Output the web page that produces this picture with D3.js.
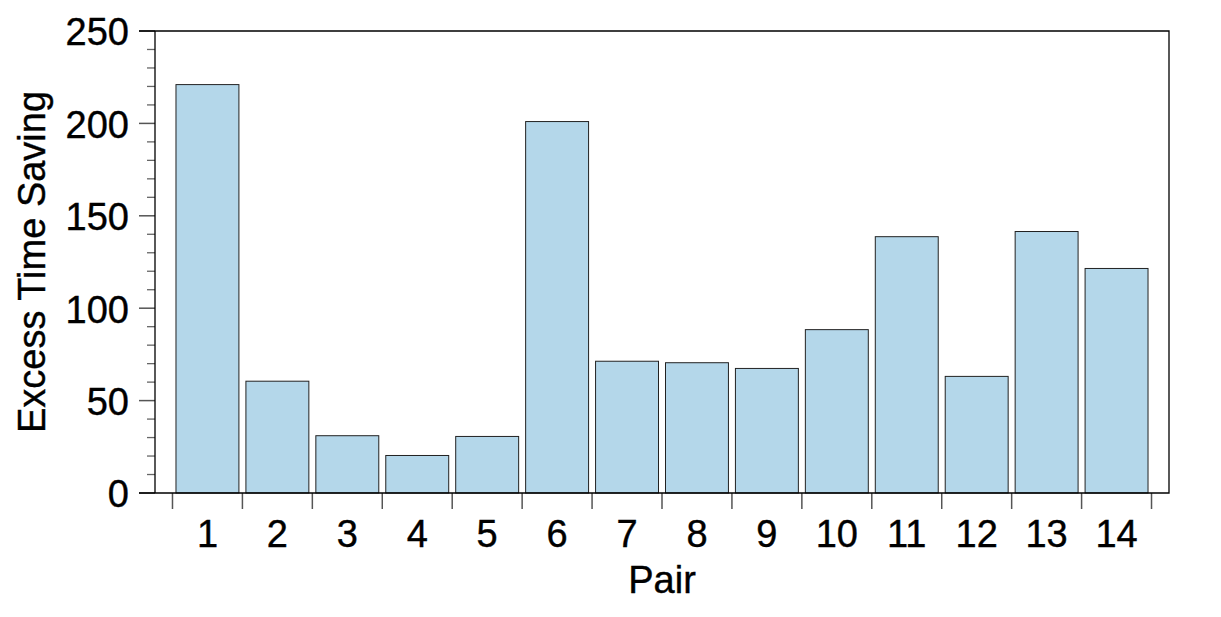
<!DOCTYPE html>
<meta charset="utf-8">
<style>
body { margin: 0; background: #fff; }
text { font-family: "Liberation Sans", Arial, sans-serif; fill: #000; stroke: #000; stroke-width: 0.4px; font-size: 38px; }
.bar { fill: #b4d7ea; stroke: #222; stroke-width: 1px; }
.frame { fill: none; stroke: #000; stroke-width: 1.3px; }
.tick-major { stroke: #555; stroke-width: 1.5px; }
.tick-minor { stroke: #666; stroke-width: 1.3px; }
</style>
<svg width="1221" height="617"></svg>
<script src="https://cdn.jsdelivr.net/npm/d3@7"></script>
<script>

var pairs = ["1", "2", "3", "4", "5", "6", "7", "8", "9", "10", "11", "12", "13", "14"];
var saving = [221, 60.5, 31, 20.3, 30.6, 201, 71.3, 70.5, 67.4, 88.4, 138.7, 63.1, 141.5, 121.5];
var yTicks = [0, 50, 100, 150, 200, 250];
var yMinor = d3.range(0, 251, 10);

var svg = d3.select("svg"),
    plotL = 155, plotR = 1169, plotT = 31, plotB = 493;

var x = d3.scaleBand()
    .domain(pairs)
    .range([plotL, plotR])
    .paddingInner(0.1)
    .paddingOuter(0.3);

var y = d3.scaleLinear()
    .domain([0, 250])
    .range([plotB, plotT]);

// bars
svg.selectAll(".bar")
  .data(saving)
  .enter().append("rect")
    .attr("class", "bar")
    .attr("x", function(d, i) { return x(pairs[i]); })
    .attr("y", function(d) { return y(d); })
    .attr("width", x.bandwidth())
    .attr("height", function(d) { return y(0) - y(d); });

// y minor ticks
svg.selectAll(".tick-minor")
  .data(yMinor.filter(function(v) { return v % 50 != 0; }))
  .enter().append("line")
    .attr("class", "tick-minor")
    .attr("x1", plotL - 8).attr("x2", plotL)
    .attr("y1", function(d) { return y(d); })
    .attr("y2", function(d) { return y(d); });

// y major ticks
svg.selectAll(".ymaj")
  .data(yTicks)
  .enter().append("line")
    .attr("class", "tick-major")
    .attr("x1", plotL - 16).attr("x2", plotL)
    .attr("y1", function(d) { return y(d); })
    .attr("y2", function(d) { return y(d); });

svg.selectAll(".ylab")
  .data(yTicks)
  .enter().append("text")
    .attr("x", plotL - 26)
    .attr("y", function(d) { return y(d); })
    .attr("dy", "0.38em")
    .attr("text-anchor", "end")
    .text(function(d) { return d; });

// x ticks at band boundaries
var step = x.step(), gap = step * x.paddingInner();
var xBounds = pairs.map(function(p) { return x(p) - gap / 2; });
xBounds.push(x(pairs[pairs.length - 1]) + x.bandwidth() + gap / 2);

svg.selectAll(".xtick")
  .data(xBounds)
  .enter().append("line")
    .attr("class", "tick-major")
    .attr("x1", function(d) { return d; })
    .attr("x2", function(d) { return d; })
    .attr("y1", plotB).attr("y2", plotB + 16);

svg.selectAll(".xlab")
  .data(pairs)
  .enter().append("text")
    .attr("x", function(d) { return x(d) + x.bandwidth() / 2; })
    .attr("y", 547)
    .attr("text-anchor", "middle")
    .text(function(d) { return d; });

// frame: bottom and top extend out to the major tick length
svg.append("path")
    .attr("class", "frame")
    .attr("d", "M" + (plotL - 16) + "," + plotB + "H" + plotR + "V" + plotT + "H" + (plotL - 16)
      + "M" + plotL + "," + plotT + "V" + plotB);

// axis titles
svg.append("text")
    .attr("x", (plotL + plotR) / 2)
    .attr("y", 593)
    .attr("text-anchor", "middle")
    .text("Pair");

svg.append("text")
    .attr("transform", "translate(45," + ((plotT + plotB) / 2) + ") rotate(-90)")
    .attr("text-anchor", "middle")
    .text("Excess Time Saving");

</script>
